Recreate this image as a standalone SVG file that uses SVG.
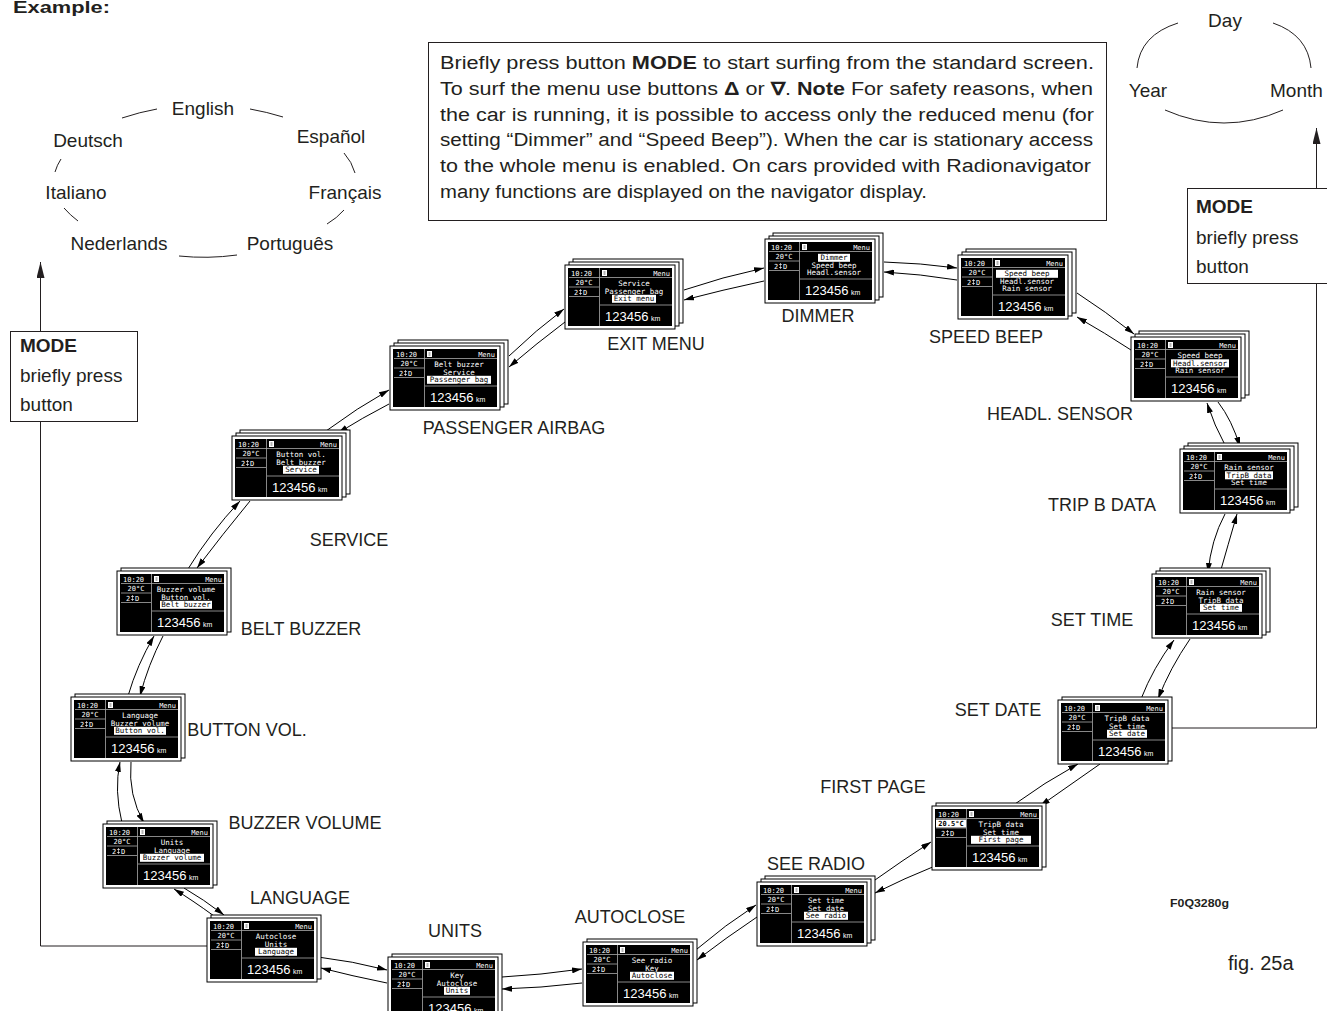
<svg xmlns="http://www.w3.org/2000/svg" xmlns:xlink="http://www.w3.org/1999/xlink" width="1327" height="1011" viewBox="0 0 1327 1011">
<style>
.t{font-family:"Liberation Sans",Arial,sans-serif;fill:#231f20}
.lbl{font-family:"Liberation Sans",Arial,sans-serif;font-size:18px;fill:#231f20;text-anchor:middle}
.ring{font-family:"Liberation Sans",Arial,sans-serif;font-size:19px;fill:#231f20;text-anchor:middle}
.px{font-family:"DejaVu Sans Mono",monospace;font-size:7px;fill:#fff}
.mt{font-family:"DejaVu Sans Mono",monospace;font-size:7.5px;fill:#fff;text-anchor:middle}
.mh{font-family:"DejaVu Sans Mono",monospace;font-size:7.5px;fill:#000;text-anchor:middle}
.hl{fill:#fff}
.odo{font-family:"Liberation Sans",Arial,sans-serif;font-size:13px;fill:#fff}
.km{font-family:"Liberation Sans",Arial,sans-serif;font-size:7px;fill:#fff}
.fr{fill:#fff;stroke:#000;stroke-width:1}
.ln{fill:none;stroke:#231f20;stroke-width:1}
.cn{fill:none;stroke:#000;stroke-width:1;marker-end:url(#ah)}
.box{fill:#fff;stroke:#231f20;stroke-width:1}
</style>
<defs>
<marker id="ah" viewBox="0 0 10 6" markerWidth="10" markerHeight="6" refX="10" refY="3" orient="auto" markerUnits="userSpaceOnUse"><path d="M0,0 L10,3 L0,6 z" fill="#000"/></marker>
<marker id="ahb" viewBox="0 0 16 8" markerWidth="16" markerHeight="8" refX="16" refY="4" orient="auto" markerUnits="userSpaceOnUse"><path d="M0,0 L16,4 L0,8 z" fill="#231f20"/></marker>
<rect id="fr" class="fr" width="110" height="64"/>
<g id="scr">
<rect x="3" y="3" width="104" height="58" fill="#000"/>
<path d="M34.5,3 V61 M4,12.5 H107 M35,40 H107 M4,22 H34 M4,31.5 H34" stroke="#aaa" stroke-width="0.8" fill="none"/>
<text class="px" x="6" y="10.5">10:20</text>
<rect x="37" y="5" width="5" height="6" fill="#fff"/><path d="M38.5,7 H40.5 M38.5,9 H40.5" stroke="#000" stroke-width="0.6"/>
<text class="px" x="105" y="10.5" text-anchor="end">Menu</text>
<text class="px" x="19" y="20" text-anchor="middle">20°C</text>
<text class="px" x="9" y="29.5">2</text>
<path d="M15.5,24 V30 M14,25.5 H17 M14,28.5 H17" stroke="#fff" stroke-width="0.6" fill="none"/>
<text class="px" x="18" y="29.5">D</text>
<text class="odo" x="40" y="55.5">123456</text>
<text class="km" x="86" y="55.5">km</text>
</g>
</defs>
<rect width="1327" height="1011" fill="#fff"/>

<text class="t" x="13" y="13" font-size="16" font-weight="bold" textLength="97" lengthAdjust="spacingAndGlyphs">Example:</text>

<g id="language-ring">
<text class="ring" x="203" y="115">English</text>
<text class="ring" x="88" y="147">Deutsch</text>
<text class="ring" x="331" y="143">Español</text>
<text class="ring" x="76" y="199">Italiano</text>
<text class="ring" x="345" y="199">Français</text>
<text class="ring" x="119" y="250">Nederlands</text>
<text class="ring" x="290" y="250">Português</text>
<path class="ln" d="M122,118 Q140,112 157,109 M250,109 Q267,112 283,117 M344,153 Q352,162 355,173 M344,210 Q337,218 327,224 M237,255 Q208,259 179,256 M78,221 Q70,215 64,208 M55,172 Q57,165 61,159"/>
</g>

<g id="date-ring">
<text class="ring" x="1225" y="27">Day</text>
<text class="ring" x="1148" y="97">Year</text>
<text class="t" x="1270" y="97" font-size="19">Month</text>
<path class="ln" d="M1137,68 Q1140,35 1178,23 M1273,23 Q1308,35 1311,68 M1165,110 Q1224,136 1283,110"/>
</g>

<g id="info-box">
<rect class="box" x="428.5" y="42.5" width="678" height="178"/>
<text class="t" font-size="18" x="440" y="69" textLength="654" lengthAdjust="spacingAndGlyphs">Briefly press button <tspan font-weight="bold">MODE</tspan> to start surfing from the standard screen.</text>
<text class="t" font-size="18" x="440" y="95" textLength="653" lengthAdjust="spacingAndGlyphs">To surf the menu use buttons <tspan font-weight="bold">Δ</tspan> or <tspan font-weight="bold">∇</tspan>. <tspan font-weight="bold">Note</tspan>  For safety reasons, when</text>
<text class="t" font-size="18" x="440" y="121" textLength="654" lengthAdjust="spacingAndGlyphs">the car is running, it is possible to access only the reduced menu (for</text>
<text class="t" font-size="18" x="440" y="146" textLength="653" lengthAdjust="spacingAndGlyphs">setting “Dimmer” and “Speed Beep”). When the car is stationary access</text>
<text class="t" font-size="18" x="440" y="172" textLength="651" lengthAdjust="spacingAndGlyphs">to the whole menu is enabled. On cars provided with Radionavigator</text>
<text class="t" font-size="18" x="440" y="198" textLength="487" lengthAdjust="spacingAndGlyphs">many functions are displayed on the navigator display.</text>
</g>

<g id="mode-left">
<rect class="box" x="10.5" y="331.5" width="127" height="90"/>
<text class="t" x="20" y="352" font-size="19" font-weight="bold">MODE</text>
<text class="t" x="20" y="382" font-size="19">briefly press</text>
<text class="t" x="20" y="411" font-size="19">button</text>
</g>
<g id="mode-right">
<rect class="box" x="1187.5" y="188.5" width="145" height="95"/>
<text class="t" x="1196" y="213" font-size="19" font-weight="bold">MODE</text>
<text class="t" x="1196" y="244" font-size="19">briefly press</text>
<text class="t" x="1196" y="273" font-size="19">button</text>
</g>

<g id="connectors">
<path d="M207,946 H40.5 V422" class="ln"/>
<path d="M40.5,331 V262" class="ln" marker-end="url(#ahb)"/>
<path d="M1168,728 H1316.5 V284" class="ln"/>
<path d="M1316.5,188 V128" class="ln" marker-end="url(#ahb)"/>
<!-- language - units -->
<path class="cn" d="M318,957 Q352,961 387,970"/>
<path class="cn" d="M387,983 Q352,976 321,968"/>
<!-- units - autoclose -->
<path class="cn" d="M502,977 Q540,975 582,969"/>
<path class="cn" d="M582,983 Q540,988 502,989"/>
<!-- autoclose - see radio -->
<path class="cn" d="M697,949 Q725,925 756,905"/>
<path class="cn" d="M757,917 Q727,937 697,960"/>
<!-- see radio - first page -->
<path class="cn" d="M875,880 Q903,860 931,842"/>
<path class="cn" d="M935,866 Q905,878 875,893"/>
<!-- first page - set date -->
<path class="cn" d="M1012,806 Q1045,782 1078,764"/>
<path class="cn" d="M1100,764 Q1070,785 1040,806"/>
<!-- set date - set time -->
<path class="cn" d="M1190,639 Q1170,668 1158,699"/>
<path class="cn" d="M1141,699 Q1153,668 1174,640"/>
<!-- set time - trip b -->
<path class="cn" d="M1225,514 Q1211,540 1208,573"/>
<path class="cn" d="M1220,573 Q1228,545 1237,514"/>
<!-- trip b - headl -->
<path class="cn" d="M1218,402 Q1232,420 1240,447"/>
<path class="cn" d="M1226,447 Q1214,425 1207,403"/>
<!-- headl - speed beep -->
<path class="cn" d="M1077,293 Q1105,311 1134,334"/>
<path class="cn" d="M1131,350 Q1105,333 1077,317"/>
<!-- speed beep - dimmer -->
<path class="cn" d="M884,262 Q920,263 957,268"/>
<path class="cn" d="M957,280 Q920,274 884,272"/>
<!-- dimmer - exit -->
<path class="cn" d="M684,290 Q722,277 764,268"/>
<path class="cn" d="M764,281 Q722,290 684,300"/>
<!-- exit - passenger -->
<path class="cn" d="M509,356 Q536,330 564,309"/>
<path class="cn" d="M565,322 Q537,343 509,367"/>
<!-- passenger - service -->
<path class="cn" d="M326,431 Q357,408 389,390"/>
<path class="cn" d="M389,404 Q362,418 338,433"/>
<!-- service - belt -->
<path class="cn" d="M188,569 Q210,533 240,501"/>
<path class="cn" d="M250,501 Q222,535 197,568"/>
<!-- belt - button -->
<path class="cn" d="M128,696 Q137,665 154,636"/>
<path class="cn" d="M163,636 Q148,665 140,696"/>
<!-- button - buzzer -->
<path class="cn" d="M122,823 Q114,790 120,762"/>
<path class="cn" d="M131,762 Q128,795 144,823"/>
<!-- buzzer - language -->
<path class="cn" d="M214,916 Q192,900 174,889"/>
<path class="cn" d="M184,888 Q203,899 224,915"/>
</g>

<g id="n-language">
<g transform="translate(207,918)"><use href="#fr" x="4" y="-3"/><use href="#fr"/><use href="#scr"/>
<text class="mt" x="69" y="21">Autoclose</text><text class="mt" x="69" y="28.5">Units</text>
<rect class="hl" x="48" y="29.8" width="42" height="8"/><text class="mh" x="69" y="36">Language</text></g>
<text class="lbl" x="300" y="904">LANGUAGE</text>
</g>

<g id="n-units">
<g transform="translate(388,957)"><use href="#fr" x="4" y="-3"/><use href="#fr"/><use href="#scr"/>
<text class="mt" x="69" y="21">Key</text><text class="mt" x="69" y="28.5">Autoclose</text>
<rect class="hl" x="56" y="29.8" width="26" height="8"/><text class="mh" x="69" y="36">Units</text></g>
<text class="lbl" x="455" y="937">UNITS</text>
</g>

<g id="n-autoclose">
<g transform="translate(583,942)"><use href="#fr" x="4" y="-3"/><use href="#fr"/><use href="#scr"/>
<text class="mt" x="69" y="21">See radio</text><text class="mt" x="69" y="28.5">Key</text>
<rect class="hl" x="47" y="29.8" width="44" height="8"/><text class="mh" x="69" y="36">Autoclose</text></g>
<text class="lbl" x="630" y="923">AUTOCLOSE</text>
</g>

<g id="n-see-radio">
<g transform="translate(757,882)"><use href="#fr" x="8" y="-6"/><use href="#fr" x="4" y="-3"/><use href="#fr"/><use href="#scr"/>
<text class="mt" x="69" y="21">Set time</text><text class="mt" x="69" y="28.5">Set date</text>
<rect class="hl" x="47" y="29.8" width="44" height="8"/><text class="mh" x="69" y="36">See radio</text></g>
<text class="lbl" x="816" y="870">SEE RADIO</text>
</g>

<g id="n-first-page">
<g transform="translate(932,806)"><use href="#fr" x="4" y="-3"/><use href="#fr"/><use href="#scr"/>
<rect x="4" y="13.5" width="30" height="8" fill="#fff"/><text class="px" x="19" y="20" text-anchor="middle" fill="#000" style="fill:#000" font-weight="bold">20.5°C</text>
<text class="mt" x="69" y="21">TripB data</text><text class="mt" x="69" y="28.5">Set time</text>
<rect class="hl" x="39" y="29.8" width="60" height="8"/><text class="mh" x="69" y="36">First page</text></g>
<text class="lbl" x="873" y="793">FIRST PAGE</text>
</g>

<g id="n-set-date">
<g transform="translate(1058,700)"><use href="#fr" x="4" y="-3"/><use href="#fr"/><use href="#scr"/>
<text class="mt" x="69" y="21">TripB data</text><text class="mt" x="69" y="28.5">Set time</text>
<rect class="hl" x="49" y="29.8" width="40" height="8"/><text class="mh" x="69" y="36">Set date</text></g>
<text class="lbl" x="998" y="716">SET DATE</text>
</g>

<g id="n-set-time">
<g transform="translate(1152,574)"><use href="#fr" x="8" y="-6"/><use href="#fr" x="4" y="-3"/><use href="#fr"/><use href="#scr"/>
<text class="mt" x="69" y="21">Rain sensor</text><text class="mt" x="69" y="28.5">TripB data</text>
<rect class="hl" x="48" y="29.8" width="42" height="8"/><text class="mh" x="69" y="36">Set time</text></g>
<text class="lbl" x="1092" y="626">SET TIME</text>
</g>

<g id="n-trip-b-data">
<g transform="translate(1180,449)"><use href="#fr" x="8" y="-6"/><use href="#fr" x="4" y="-3"/><use href="#fr"/><use href="#scr"/>
<text class="mt" x="69" y="21">Rain sensor</text>
<rect class="hl" x="45" y="22.3" width="48" height="8"/><text class="mh" x="69" y="28.5">TripB data</text>
<text class="mt" x="69" y="36">Set time</text></g>
<text class="lbl" x="1102" y="511">TRIP B DATA</text>
</g>

<g id="n-headl-sensor">
<g transform="translate(1131,337)"><use href="#fr" x="8" y="-6"/><use href="#fr" x="4" y="-3"/><use href="#fr"/><use href="#scr"/>
<text class="mt" x="69" y="21">Speed beep</text>
<rect class="hl" x="40" y="22.3" width="58" height="8"/><text class="mh" x="69" y="28.5">Headl.sensor</text>
<text class="mt" x="69" y="36">Rain sensor</text></g>
<text class="lbl" x="1060" y="420">HEADL. SENSOR</text>
</g>

<g id="n-speed-beep">
<g transform="translate(958,255)"><use href="#fr" x="8" y="-6"/><use href="#fr" x="4" y="-3"/><use href="#fr"/><use href="#scr"/>
<rect class="hl" x="38" y="14.8" width="62" height="8"/><text class="mh" x="69" y="21">Speed beep</text>
<text class="mt" x="69" y="28.5">Headl.sensor</text><text class="mt" x="69" y="36">Rain sensor</text></g>
<text class="lbl" x="986" y="343">SPEED BEEP</text>
</g>

<g id="n-dimmer">
<g transform="translate(765,239)"><use href="#fr" x="8" y="-6"/><use href="#fr" x="4" y="-3"/><use href="#fr"/><use href="#scr"/>
<rect class="hl" x="53" y="14.8" width="32" height="8"/><text class="mh" x="69" y="21">Dimmer</text>
<text class="mt" x="69" y="28.5">Speed beep</text><text class="mt" x="69" y="36">Headl.sensor</text></g>
<text class="lbl" x="818" y="322">DIMMER</text>
</g>

<g id="n-exit-menu">
<g transform="translate(565,265)"><use href="#fr" x="8" y="-6"/><use href="#fr" x="4" y="-3"/><use href="#fr"/><use href="#scr"/>
<text class="mt" x="69" y="21">Service</text><text class="mt" x="69" y="28.5">Passenger bag</text>
<rect class="hl" x="47" y="29.8" width="44" height="8"/><text class="mh" x="69" y="36">Exit menu</text></g>
<text class="lbl" x="656" y="350">EXIT MENU</text>
</g>

<g id="n-passenger-airbag">
<g transform="translate(390,346)"><use href="#fr" x="8" y="-6"/><use href="#fr" x="4" y="-3"/><use href="#fr"/><use href="#scr"/>
<text class="mt" x="69" y="21">Belt buzzer</text><text class="mt" x="69" y="28.5">Service</text>
<rect class="hl" x="37" y="29.8" width="64" height="8"/><text class="mh" x="69" y="36">Passenger bag</text></g>
<text class="lbl" x="514" y="434">PASSENGER AIRBAG</text>
</g>

<g id="n-service">
<g transform="translate(232,436)"><use href="#fr" x="8" y="-6"/><use href="#fr" x="4" y="-3"/><use href="#fr"/><use href="#scr"/>
<text class="mt" x="69" y="21">Button vol.</text><text class="mt" x="69" y="28.5">Belt buzzer</text>
<rect class="hl" x="51" y="29.8" width="36" height="8"/><text class="mh" x="69" y="36">Service</text></g>
<text class="lbl" x="349" y="546">SERVICE</text>
</g>

<g id="n-belt-buzzer">
<g transform="translate(117,571)"><use href="#fr" x="4" y="-3"/><use href="#fr"/><use href="#scr"/>
<text class="mt" x="69" y="21">Buzzer volume</text><text class="mt" x="69" y="28.5">Button vol.</text>
<rect class="hl" x="43" y="29.8" width="52" height="8"/><text class="mh" x="69" y="36">Belt buzzer</text></g>
<text class="lbl" x="301" y="635">BELT BUZZER</text>
</g>

<g id="n-button-vol">
<g transform="translate(71,697)"><use href="#fr" x="4" y="-3"/><use href="#fr"/><use href="#scr"/>
<text class="mt" x="69" y="21">Language</text><text class="mt" x="69" y="28.5">Buzzer volume</text>
<rect class="hl" x="43" y="29.8" width="52" height="8"/><text class="mh" x="69" y="36">Button vol.</text></g>
<text class="lbl" x="247" y="736">BUTTON VOL.</text>
</g>

<g id="n-buzzer-volume">
<g transform="translate(103,824)"><use href="#fr" x="4" y="-3"/><use href="#fr"/><use href="#scr"/>
<text class="mt" x="69" y="21">Units</text><text class="mt" x="69" y="28.5">Language</text>
<rect class="hl" x="37" y="29.8" width="64" height="8"/><text class="mh" x="69" y="36">Buzzer volume</text></g>
<text class="lbl" x="305" y="829">BUZZER VOLUME</text>
</g>

<text class="t" x="1170" y="907" font-size="11" font-weight="bold" textLength="59" lengthAdjust="spacingAndGlyphs">F0Q3280g</text>
<text class="t" x="1228" y="970" font-size="20">fig. 25a</text>
</svg>
